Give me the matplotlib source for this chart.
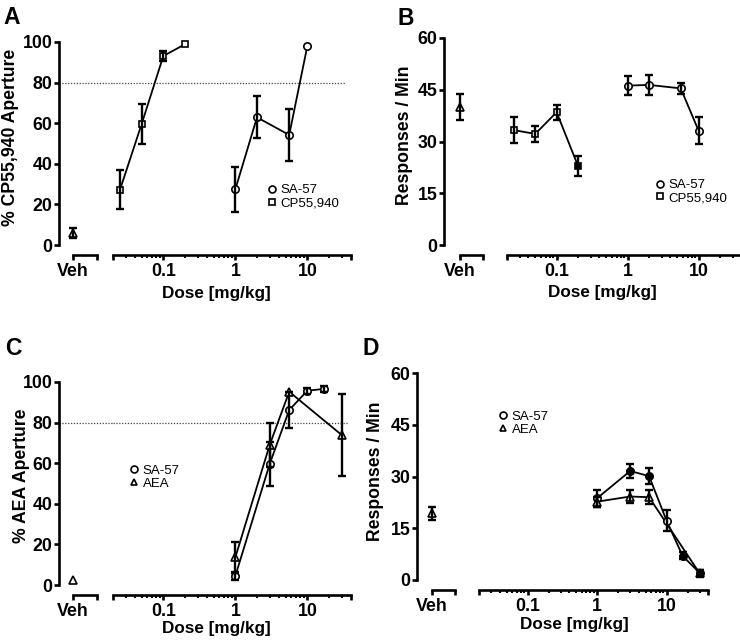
import numpy as np
import matplotlib
matplotlib.use('Agg')
import matplotlib.pyplot as plt
from matplotlib.lines import Line2D
import matplotlib.transforms as mtransforms

plt.rcParams['font.family'] = ['Liberation Sans', 'DejaVu Sans']
plt.rcParams['font.weight'] = 'bold'

# ---------------- data ----------------
# Panel A: % CP55,940-appropriate responding
a_cp_dose = [0.025, 0.05, 0.1, 0.2]
a_cp_val = [27.2, 59.6, 93.1, 98.9]
a_cp_err = [9.7, 9.7, 2.3, 0.0]
a_sa_dose = [1, 2, 5.6, 10]
a_sa_val = [27.4, 62.9, 54.2, 98.0]
a_sa_err = [11.0, 10.4, 12.7, 0.0]
a_veh_val, a_veh_err = 6.0, 2.4

# Panel B: response rate (CP55,940 trained)
b_cp_dose = [0.025, 0.05, 0.1, 0.2]
b_cp_val = [33.3, 32.2, 38.5, 22.9]
b_cp_err = [3.7, 2.4, 2.2, 3.0]
b_cp_fill = [False, False, False, True]
b_sa_dose = [1, 2, 5.6, 10]
b_sa_val = [46.2, 46.4, 45.4, 33.1]
b_sa_err = [2.7, 2.9, 1.5, 3.9]
b_sa_fill = [False, False, False, False]
b_veh_val, b_veh_err = 40.0, 3.7

# Panel C: % AEA-appropriate responding
c_sa_dose = [1, 3, 5.6, 10, 17]
c_sa_val = [4.4, 59.6, 86.2, 95.7, 96.6]
c_sa_err = [2.0, 11.0, 9.0, 1.5, 1.5]
c_aea_dose = [1, 3, 5.6, 30]
c_aea_val = [13.6, 69.0, 95.2, 73.9]
c_aea_err = [7.5, 11.0, 0.0, 20.0]
c_veh_val, c_veh_err = 2.5, 0.0

# Panel D: response rate (AEA trained)
d_sa_dose = [1, 3, 5.6, 10, 17, 30]
d_sa_val = [23.7, 31.6, 30.1, 17.2, 7.0, 2.0]
d_sa_err = [2.5, 1.9, 2.4, 3.0, 1.0, 0.8]
d_sa_fill = [False, True, True, False, True, True]
d_aea_dose = [1, 3, 5.6, 30]
d_aea_val = [22.7, 24.2, 24.0, 1.9]
d_aea_err = [1.5, 1.9, 2.0, 1.0]
d_aea_fill = [False, False, False, True]
d_veh_val, d_veh_err = 19.3, 1.8

major_ticks = [0.1, 1, 10]
major_labels = ['0.1', '1', '10']
minor_ticks = [0.03, 0.04, 0.05, 0.06, 0.07, 0.08, 0.09,
               0.2, 0.3, 0.4, 0.5, 0.6, 0.7, 0.8, 0.9,
               2, 3, 4, 5, 6, 7, 8, 9, 20, 30]
x_lo, x_hi = 0.02, 40

# ---------------- figure ----------------
W, H = 740, 644
fig = plt.figure(figsize=(W / 100, H / 100), dpi=100)

LW_SPINE = 1.9
TICK_FS = 12.8
LABEL_FS = 12.3


def px_axes(l, r, top, bottom):
    ax = fig.add_axes([l / W, 1 - bottom / H, (r - l) / W, (bottom - top) / H])
    ax.set_facecolor('none')
    return ax


def draw_series(ax, x, y, e, marker, ms, filled=None):
    if filled is None:
        filled = [False] * len(x)
    ax.plot(x, y, color='black', lw=1.3, zorder=2, clip_on=False)
    for xi, yi, fi in zip(x, y, filled):
        ax.plot([xi], [yi], marker=marker, ms=ms, ls='none',
                mfc='black' if fi else 'white', mec='black', mew=1.2,
                zorder=3, clip_on=False)
    ex = [xi for xi, ei in zip(x, e) if ei > 0]
    ey = [yi for yi, ei in zip(y, e) if ei > 0]
    ee = [ei for ei in e if ei > 0]
    if ex:
        ax.errorbar(ex, ey, yerr=ee, fmt='none', ecolor='black', elinewidth=1.7,
                    capsize=3, capthick=1.7, zorder=4, clip_on=False)


def panel(letter, letter_xy, spine_x, veh_x0, veh_unit, main_l, decade_px,
          top, bottom, ymax, yticks, ylabel, ylabel_xy, xlabel_xy):
    axv = px_axes(spine_x, main_l, top, bottom)
    axv.set_xlim((spine_x - veh_x0) / veh_unit, (main_l - veh_x0) / veh_unit)
    main_r = main_l + decade_px * np.log10(x_hi / x_lo)
    axm = px_axes(main_l, main_r, top, bottom)
    axm.set_xscale('log')
    axm.set_xlim(x_lo, x_hi)
    for ax in (axv, axm):
        ax.set_ylim(0, ymax)
        ax.spines['top'].set_visible(False)
        ax.spines['right'].set_visible(False)
        ax.spines['bottom'].set_position(('outward', 7.5))
        ax.spines['bottom'].set_linewidth(LW_SPINE)
        ax.spines['left'].set_linewidth(LW_SPINE)
    axm.spines['left'].set_visible(False)
    axm.set_yticks([])
    axv.spines['bottom'].set_bounds(0, 1)
    axv.set_yticks(yticks)
    axv.set_yticklabels([str(t) for t in yticks], fontsize=TICK_FS, fontweight='bold')
    axv.tick_params(axis='y', direction='out', length=3.6, width=LW_SPINE, pad=1)
    axv.set_xticks([0, 1])
    axv.set_xticklabels(['Veh', ''], fontsize=TICK_FS, fontweight='bold')
    axv.tick_params(axis='x', direction='out', length=3.6, width=LW_SPINE, pad=2)

    axm.set_xticks([x_lo] + major_ticks + [x_hi])
    axm.set_xticklabels([''] + major_labels + [''], fontsize=TICK_FS, fontweight='bold')
    axm.set_xticks(minor_ticks, minor=True)
    axm.set_xticklabels([''] * len(minor_ticks), minor=True)
    axm.tick_params(axis='x', which='major', direction='out', length=3.6, width=LW_SPINE, pad=2)
    axm.tick_params(axis='x', which='minor', direction='out', length=2.0, width=1.5)

    axv.set_ylabel(ylabel, fontsize=LABEL_FS + 0.4, fontweight='bold')
    tr = mtransforms.blended_transform_factory(fig.transFigure, fig.transFigure)
    axv.yaxis.set_label_coords(ylabel_xy[0] / W, 1 - ylabel_xy[1] / H, transform=tr)
    axm.set_xlabel('Dose [mg/kg]', fontsize=LABEL_FS, fontweight='bold', va='top')
    axm.xaxis.set_label_coords(xlabel_xy[0] / W, 1 - xlabel_xy[1] / H, transform=tr)

    fig.text(letter_xy[0] / W, 1 - letter_xy[1] / H, letter, fontsize=16.5,
             fontweight='bold', ha='left', va='top')
    return axv, axm


def add_legend(ax, handles, labels, marker_cx, row_cy):
    fs = 9.5
    fs_px = fs * 100 / 72
    anchor_x = marker_cx - 0.8 * fs_px / 2
    leg = ax.legend(handles, labels, loc='center left',
                    bbox_to_anchor=(anchor_x / W, 1 - row_cy / H),
                    bbox_transform=fig.transFigure, frameon=False,
                    prop={'size': fs, 'weight': 'normal'}, handlelength=0.8,
                    handletextpad=0.25, borderpad=0, borderaxespad=0,
                    labelspacing=0.05)
    return leg


def mk(marker, ms=5.0):
    return Line2D([], [], marker=marker, ls='none', mfc='white', mec='black',
                  mew=1.2, ms=ms)


# ---- Panel A ----
axv, axm = panel('A', (3, 6), 59, 73, 24, 113, 72, 42, 245, 100,
                 [0, 20, 40, 60, 80, 100], '% CP55,940 Aperture', (19, 137), (216, 286))
axv.axhline(80, color='#444444', lw=0.9, ls=(0, (1, 1.3)), zorder=1)
axm.axhline(80, xmax=0.975, color='#444444', lw=0.9, ls=(0, (1, 1.3)), zorder=1)
draw_series(axv, [0], [a_veh_val], [a_veh_err], '^', 5.5)
draw_series(axm, a_cp_dose, a_cp_val, a_cp_err, 's', 5.0)
draw_series(axm, a_sa_dose, a_sa_val, a_sa_err, 'o', 5.3)
add_legend(axm, [mk('o'), mk('s', 4.6)], ['SA-57', 'CP55,940'], 271.7, 196.8)

# ---- Panel B ----
axv, axm = panel('B', (398, 7), 444, 460, 23, 507, 71, 38, 245, 60,
                 [0, 15, 30, 45, 60], 'Responses / Min', (413, 135), (602, 285))
draw_series(axv, [0], [b_veh_val], [b_veh_err], '^', 5.5)
draw_series(axm, b_cp_dose, b_cp_val, b_cp_err, 's', 5.0, b_cp_fill)
draw_series(axm, b_sa_dose, b_sa_val, b_sa_err, 'o', 5.3, b_sa_fill)
add_legend(axm, [mk('o'), mk('s', 4.6)], ['SA-57', 'CP55,940'], 660, 191.5)

# ---- Panel C ----
axv, axm = panel('C', (5, 337), 59, 73, 24, 113, 72, 382, 585, 100,
                 [0, 20, 40, 60, 80, 100], '% AEA Aperture', (30, 476), (216, 621))
axv.axhline(80, color='#444444', lw=0.9, ls=(0, (1, 1.3)), zorder=1)
axm.axhline(80, xmax=0.99, color='#444444', lw=0.9, ls=(0, (1, 1.3)), zorder=1)
draw_series(axv, [0], [c_veh_val], [c_veh_err], '^', 5.5)
draw_series(axm, c_sa_dose, c_sa_val, c_sa_err, 'o', 5.3)
draw_series(axm, c_aea_dose, c_aea_val, c_aea_err, '^', 6.0)
add_legend(axm, [mk('o'), mk('^', 5.0)], ['SA-57', 'AEA'], 134.3, 477)

# ---- Panel D ----
axv, axm = panel('D', (362, 337), 417, 432, 23, 479, 69.5, 373, 580, 60,
                 [0, 15, 30, 45, 60], 'Responses / Min', (384, 471), (574, 617))
draw_series(axv, [0], [d_veh_val], [d_veh_err], '^', 5.5)
draw_series(axm, d_sa_dose, d_sa_val, d_sa_err, 'o', 5.3, d_sa_fill)
draw_series(axm, d_aea_dose, d_aea_val, d_aea_err, '^', 6.0, d_aea_fill)
add_legend(axm, [mk('o'), mk('^', 5.0)], ['SA-57', 'AEA'], 503.3, 423)

fig.savefig('out.png', dpi=100)
